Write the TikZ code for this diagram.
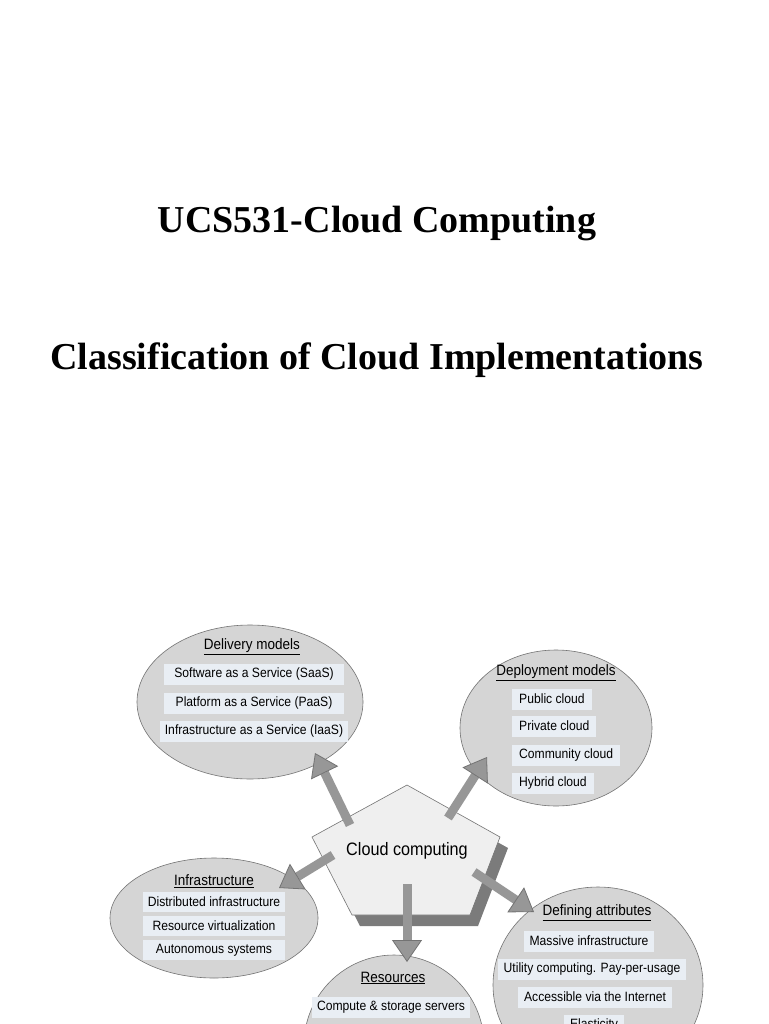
\documentclass[tikz,border=0pt]{standalone}
\usepackage{fontspec}
\setmainfont{Liberation Serif}
\newfontfamily\diagfont[FakeStretch=0.9]{Liberation Sans}
\usetikzlibrary{arrows.meta, shapes.geometric}

\definecolor{ellgray}{HTML}{D5D5D5}
\definecolor{boxblue}{HTML}{E9EEF4}
\definecolor{pentgray}{HTML}{EFEFEF}
\definecolor{arrgray}{HTML}{979797}
\definecolor{shadgray}{HTML}{7B7B7B}

\tikzset{
  ell/.style={ellipse, draw=black!55, fill=ellgray, line width=0.6pt, inner sep=0pt},
  grouptitle/.style={font=\diagfont\fontsize{15}{17}\selectfont, inner sep=1pt},
  item/.style={fill=boxblue, font=\diagfont\fontsize{13.5}{15}\selectfont, inner xsep=5pt, inner ysep=0pt, minimum height=21pt},
  fat/.style={line width=9pt, draw=arrgray, -{Triangle[width=30pt,length=22pt,line width=0.8pt,color=black!55,fill=arrgray]}},
}

\begin{document}
\begin{tikzpicture}[x=1pt, y=-1pt]

\useasboundingbox (0,0) rectangle (768,1024);
\clip (0,0) rectangle (768,1024);
\fill[white] (0,0) rectangle (768,1024);

% titles
\node[font=\bfseries\fontsize{38}{44}\selectfont] (title) at (377,224) {UCS531-Cloud Computing};
\node[font=\bfseries\fontsize{38}{44}\selectfont] (subtitle) at (377,360) {Classification of Cloud Implementations};

% the five groups
\node[ell, minimum width=226, minimum height=154] (del) at (250,702) {};
\node[ell, minimum width=192, minimum height=156] (dep) at (556,728) {};
\node[ell, minimum width=208, minimum height=120] (inf) at (214,918) {};
\node[ell, minimum width=180, minimum height=180] (res) at (394,1045) {};
\node[ell, minimum width=210, minimum height=196] (def) at (598,985) {};

\node[grouptitle] (deltitle) at (252,647) {\underline{Delivery models}};
	\foreach \y/\t in {674/Software as a Service (SaaS), 703/Platform as a Service (PaaS), 731/Infrastructure as a Service (IaaS)}
		\node[item, minimum width=180] (del-\y) at (254,\y) {\t};

\node[grouptitle] (deptitle) at (556,673) {\underline{Deployment models}};
	\foreach \y/\t in {699/Public cloud, 726/Private cloud, 755/Community cloud, 783/Hybrid cloud}
		\node[item, anchor=west, inner xsep=7pt] (dep-\y) at (512,\y) {\t};

\node[grouptitle] (inftitle) at (214,881) {\underline{Infrastructure}};
	\foreach \y/\t in {902/Distributed infrastructure, 926/Resource virtualization, 950/Autonomous systems}
		\node[item, minimum width=142, minimum height=20] (inf-\y) at (214,\y) {\t};

\node[grouptitle] (restitle) at (393,978) {\underline{Resources}};
\node[item, minimum width=158] (res-1007) at (391,1007) {Compute \& storage servers};

\node[grouptitle] (deftitle) at (597,913) {\underline{Defining attributes}};
	\foreach \x/\y/\t in {589/941/Massive infrastructure, 592/969/Utility computing. Pay-per-usage, 595/997/Accessible via the Internet, 594/1025/Elasticity}
		\node[item, inner xsep=6pt] (def-\y) at (\x,\y) {\t};

% pentagon with its shadow
\coordinate (p1) at (407,785);
\coordinate (p2) at (500,837);
\coordinate (p3) at (470,915);
\coordinate (p4) at (352,915);
\coordinate (p5) at (312,837);

\fill[shadgray] ([shift={(8,11)}]p1) -- ([shift={(8,11)}]p2) -- ([shift={(8,11)}]p3) -- ([shift={(8,11)}]p4) -- ([shift={(8,11)}]p5) -- cycle;
\draw[black!55, fill=pentgray, line width=0.6pt] (p1) -- (p2) -- (p3) -- (p4) -- (p5) -- cycle;
\node[font=\diagfont\fontsize{18}{20}\selectfont] (cc) at (407,851) {Cloud computing};

% arrows out of the pentagon
\coordinate (a1) at (350,825);	\coordinate (b1) at (315,753);
\coordinate (a2) at (448,818);	\coordinate (b2) at (487,757);
\coordinate (a3) at (333,855);	\coordinate (b3) at (279,888);
\coordinate (a4) at (407,884);	\coordinate (b4) at (407,962);
\coordinate (a5) at (474,872);	\coordinate (b5) at (534,912);

	\foreach \i in {1,...,5}
		\draw[fat] (a\i) -- (b\i);

\end{tikzpicture}
\end{document}
